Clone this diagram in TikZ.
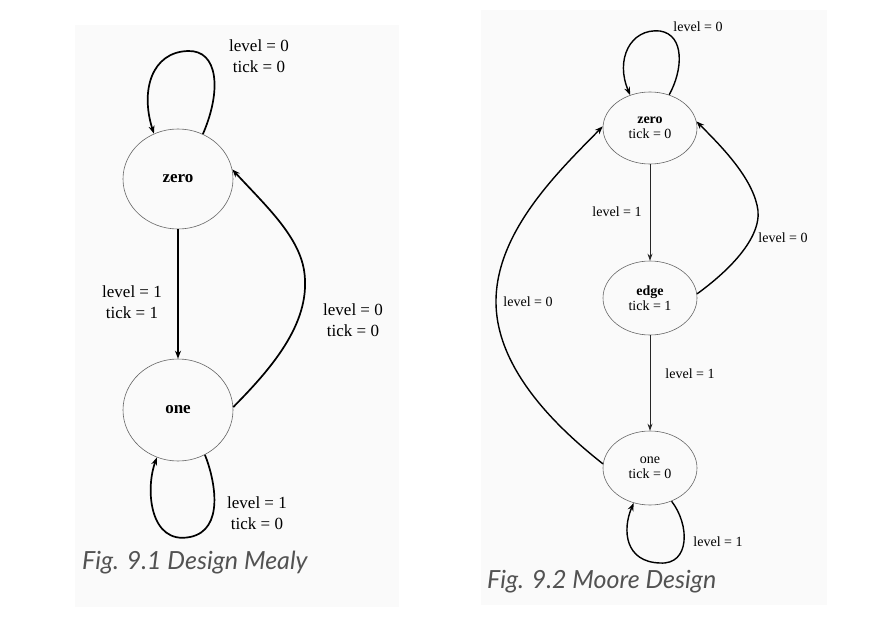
\documentclass[tikz,border=0pt]{standalone}
\usepackage{fontspec}
\setmainfont{Liberation Serif}
\newfontfamily\capfont{Lato}
\usetikzlibrary{shapes.geometric,arrows.meta}
\begin{document}
\begin{tikzpicture}[x=1pt,y=-1pt,
  state/.style={ellipse,draw=black!60,line width=0.6pt,inner sep=0pt,align=center},
  trans/.style={draw=black,line width=1.7pt,-{Stealth[length=8pt,width=6pt]}},
  thintrans/.style={draw=black!85,line width=0.9pt,-{Stealth[length=7pt,width=5pt]}},
  lblL/.style={font=\fontsize{17}{20.5}\selectfont,align=center,inner sep=0pt},
  lblR/.style={font=\fontsize{14}{15}\selectfont,align=center,inner sep=0pt},
  capt/.style={font=\capfont\itshape\fontsize{25}{28}\selectfont,text=black!68,anchor=west,inner sep=0pt}]
\useasboundingbox (0,0) rectangle (881,637);
\fill[white] (0,0) rectangle (881,637);
\fill[black!1.8] (75,25) rectangle (399,607);
\fill[black!1.8] (481,10) rectangle (827,605);

% ---------- Mealy ----------
\node[state,minimum width=110pt,minimum height=100pt,font=\bfseries\fontsize{17}{20}\selectfont] (zL) at (178,179) {zero};
\node[state,minimum width=110pt,minimum height=102pt,font=\bfseries\fontsize{17}{20}\selectfont] (oL) at (178,410) {one};

\draw[trans] (zL.61) .. controls (222,90) and (218,50) .. (188,51)
  .. controls (152,52) and (140,90) .. (zL.118);
\node[lblL] (l1) at (259,56) {level = 0\\tick = 0};

\draw[trans] (zL) -- (oL);
\node[lblL] (l2) at (132,302) {level = 1\\tick = 1};

\draw[trans] (oL.3) .. controls (275,365) and (312,320) .. (304,270)
  .. controls (298,235) and (265,205) .. (zL.10);
\node[lblL] (l3) at (353,320) {level = 0\\tick = 0};

\draw[trans] (oL.-59) .. controls (215,480) and (225,530) .. (190,537)
  .. controls (150,545) and (145,490) .. (oL.-114);
\node[lblL] (l4) at (257,513) {level = 1\\tick = 0};

\node[capt] (c1) at (82,563) {Fig. 9.1 Design Mealy};

% ---------- Moore ----------
\node[state,minimum width=94pt,minimum height=72pt,font=\fontsize{14}{15}\selectfont] (zR) at (650,128) {\textbf{zero}\\tick = 0};
\node[state,minimum width=94pt,minimum height=74pt,font=\fontsize{14}{15}\selectfont] (eR) at (650,298) {\textbf{edge}\\tick = 1};
\node[state,minimum width=94pt,minimum height=74pt,font=\fontsize{14}{15}\selectfont] (oR) at (650,468) {one\\tick = 0};

\draw[trans,line width=1.4pt] (zR.60) .. controls (683,70) and (685,35) .. (660,31)
  .. controls (630,28) and (615,60) .. (zR.121);
\node[lblR] (r1) at (698,27) {level = 0};

\draw[thintrans] (zR) -- (eR);
\node[lblR] (r2) at (617,212) {level = 1};

\draw[thintrans] (eR) -- (oR);
\node[lblR] (r3) at (690,374) {level = 1};

\draw[trans,line width=1.4pt] (eR.5) .. controls (730,270) and (765,235) .. (757,205)
  .. controls (750,175) and (720,145) .. (zR.8);
\node[lblR] (r4) at (783,238) {level = 0};

\draw[trans,line width=1.4pt] (oR.175) .. controls (560,430) and (495,370) .. (496,300)
  .. controls (497,230) and (560,170) .. (zR.178);
\node[lblR] (r5) at (528,302) {level = 0};

\draw[trans,line width=1.4pt] (oR.-57) .. controls (690,525) and (690,565) .. (660,563)
  .. controls (625,562) and (622,530) .. (oR.-115);
\node[lblR] (r6) at (718,542) {level = 1};

\node[capt] (c2) at (487,582) {Fig. 9.2 Moore Design};
\end{tikzpicture}
\end{document}
